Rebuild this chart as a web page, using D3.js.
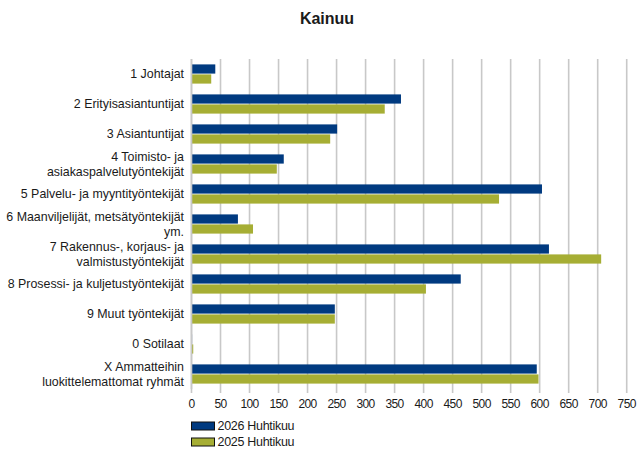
<!DOCTYPE html>
<html>
<head>
<meta charset="utf-8">
<script src="https://cdn.jsdelivr.net/npm/d3@7"></script>
<style>
  body { margin: 0; background: #fff; }
  text { font-family: "Liberation Sans", Arial, sans-serif; fill: #1a1a1a; }
</style>
</head>
<body>
<div id="chart"></div>
<script>
// Categories (label lines) and values
const categories = [
  ["1 Johtajat"],
  ["2 Erityisasiantuntijat"],
  ["3 Asiantuntijat"],
  ["4 Toimisto- ja", "asiakaspalvelutyöntekijät"],
  ["5 Palvelu- ja myyntityöntekijät"],
  ["6 Maanviljelijät, metsätyöntekijät", "ym."],
  ["7 Rakennus-, korjaus- ja", "valmistustyöntekijät"],
  ["8 Prosessi- ja kuljetustyöntekijät"],
  ["9 Muut työntekijät"],
  ["0 Sotilaat"],
  ["X Ammatteihin", "luokittelemattomat ryhmät"]
];
const values2026 = [41, 361, 251, 159, 604, 80, 616, 464, 247, 1, 595];
const values2025 = [34, 333, 239, 147, 530, 106, 706, 404, 247, 3, 598];
const seriesNames = ["2026 Huhtikuu", "2025 Huhtikuu"];
const seriesColors = ["#003a80", "#a6ae34"];
const xTicks = d3.range(0, 751, 50);

const width = 637, height = 450;
const margin = { top: 59, right: 10, bottom: 61, left: 191.5 };

const svg = d3.select("#chart").append("svg")
  .attr("width", width)
  .attr("height", height);

// Title
svg.append("text")
  .attr("x", 327).attr("y", 24)
  .attr("text-anchor", "middle")
  .style("font-size", "16px")
  .style("font-weight", "bold")
  .text("Kainuu");

const x = d3.scaleLinear().domain([0, 750]).range([margin.left, 626.7]);
const y = d3.scaleBand()
  .domain(d3.range(categories.length))
  .range([margin.top, height - margin.bottom])
  .paddingInner(0.36).paddingOuter(0.18);
const sub = d3.scaleBand().domain([0, 1]).range([0, y.bandwidth()]).paddingInner(0.08);

// Gridlines
svg.append("g")
  .selectAll("line")
  .data(xTicks)
  .join("line")
  .attr("x1", d => x(d)).attr("x2", d => x(d))
  .attr("y1", margin.top).attr("y2", height - margin.bottom + 4)
  .attr("stroke", "#c8c8c8")
  .attr("stroke-width", 1.6);

// X axis labels
svg.append("g")
  .selectAll("text")
  .data(xTicks)
  .join("text")
  .attr("x", d => x(d))
  .attr("y", 408)
  .attr("text-anchor", "middle")
  .style("font-size", "12px")
  .style("letter-spacing", "-0.6px")
  .text(d => d);

// Bars
const data = [values2026, values2025];
data.forEach((vals, s) => {
  svg.append("g")
    .selectAll("rect")
    .data(vals)
    .join("rect")
    .attr("x", x(0))
    .attr("y", (d, i) => y(i) + sub(s))
    .attr("width", d => x(d) - x(0))
    .attr("height", sub.bandwidth())
    .attr("fill", seriesColors[s]);
});

// Y axis line
svg.append("line")
  .attr("x1", x(0)).attr("x2", x(0))
  .attr("y1", margin.top).attr("y2", height - margin.bottom)
  .attr("stroke", "#c8c8c8").attr("stroke-width", 1.6);

// Category labels
const lab = svg.append("g")
  .selectAll("text")
  .data(categories)
  .join("text")
  .attr("text-anchor", "end")
  .style("font-size", "12.4px")
  .attr("transform", (d, i) => `translate(184,${y(i) + y.bandwidth() / 2})`);
lab.selectAll("tspan")
  .data(d => d.map((t, k) => ({ t, k, n: d.length })))
  .join("tspan")
  .attr("x", 0)
  .attr("y", d => (d.k - (d.n - 1) / 2) * 15)
  .attr("dy", "0.35em")
  .text(d => d.t);

// Legend
const leg = svg.append("g")
  .selectAll("g")
  .data(seriesNames)
  .join("g")
  .attr("transform", (d, i) => `translate(191.5,${422 + i * 16})`);
leg.append("rect")
  .attr("width", 23).attr("height", 8)
  .attr("fill", (d, i) => seriesColors[i])
  .attr("stroke", "#111").attr("stroke-width", 1);
leg.append("text")
  .attr("x", 26).attr("y", 4).attr("dy", "0.35em")
  .style("font-size", "12.5px")
  .style("letter-spacing", "-0.3px")
  .text(d => d);
</script>
</body>
</html>
